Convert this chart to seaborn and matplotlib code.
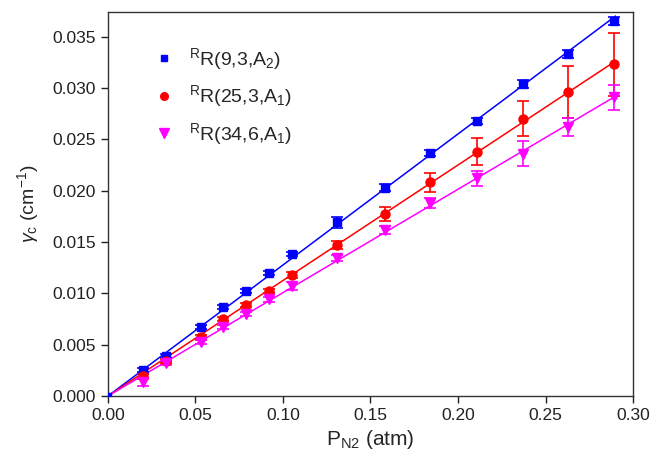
import numpy as np
import pandas as pd
import matplotlib
matplotlib.use("Agg")
import matplotlib.pyplot as plt
from matplotlib.lines import Line2D
import seaborn as sns

# pressures (atm)
p_n2 = [0.020, 0.033, 0.053, 0.066, 0.079, 0.092, 0.105,
        0.131, 0.158, 0.184, 0.211, 0.237, 0.263, 0.289]

# gamma_c (cm-1) per line
g_9_3_a2 = [0.0025, 0.0039, 0.0067, 0.0087, 0.0102, 0.0120, 0.0138,
            0.0169, 0.0203, 0.0237, 0.0268, 0.0304, 0.0333, 0.0365]
err_9_3_a2 = [0.0002, 0.0002, 0.0002, 0.0002, 0.0002, 0.0002, 0.0002,
              0.0005, 0.0003, 0.0003, 0.0003, 0.0004, 0.0004, 0.0004]

g_25_3_a1 = [0.0019, 0.0034, 0.0057, 0.0075, 0.0089, 0.0102, 0.0118,
             0.0147, 0.0177, 0.0208, 0.0238, 0.0270, 0.0296, 0.0323]
err_25_3_a1 = [0.0002, 0.0002, 0.0002, 0.0002, 0.0002, 0.0002, 0.0003,
               0.0004, 0.0007, 0.0009, 0.0013, 0.0017, 0.0025, 0.0031]

g_34_6_a1 = [0.0014, 0.0032, 0.0053, 0.0067, 0.0080, 0.0094, 0.0107,
             0.0134, 0.0162, 0.0188, 0.0212, 0.0236, 0.0262, 0.0291]
err_34_6_a1 = [0.0004, 0.0002, 0.0002, 0.0002, 0.0002, 0.0002, 0.0004,
               0.0003, 0.0004, 0.0005, 0.0007, 0.0012, 0.0009, 0.0012]

labels = [r"$^{\mathrm{R}}$R(9,3,A$_2$)",
          r"$^{\mathrm{R}}$R(25,3,A$_1$)",
          r"$^{\mathrm{R}}$R(34,6,A$_1$)"]
colors = ["#0000ff", "#ff0000", "#ff00ff"]
markers = ["s", "o", "v"]
msizes = [5.5, 6.5, 7.5]

sns.set_theme(style="ticks")
plt.rcParams["font.family"] = ["Liberation Sans", "DejaVu Sans"]
plt.rcParams["mathtext.fontset"] = "custom"
plt.rcParams["mathtext.rm"] = "Liberation Sans"
plt.rcParams["mathtext.it"] = "Liberation Sans:italic"

fig = plt.figure(figsize=(6.52, 4.61), dpi=100)
ax = fig.add_axes([0.1656, 0.141, 0.8053, 0.833])

series = [(g_9_3_a2, err_9_3_a2), (g_25_3_a1, err_25_3_a1), (g_34_6_a1, err_34_6_a1)]
x = np.array(p_n2)
x_fit = np.array([0.0, 0.29])
handles = []
for (y, e), lab, c, m, ms in zip(series, labels, colors, markers, msizes):
    y = np.array(y)
    # linear fit through origin
    slope = np.sum(x * y) / np.sum(x * x)
    fit_df = pd.DataFrame({"x": x_fit, "y": slope * x_fit})
    sns.lineplot(data=fit_df, x="x", y="y", color=c, lw=1.1, ax=ax, legend=False)
    ax.errorbar(x, y, yerr=e, fmt=m, color=c, ms=ms, ecolor=c, elinewidth=1.2,
                capsize=4, capthick=1.2, zorder=3)
    handles.append(Line2D([], [], ls="none", marker=m, color=c, ms=ms - 1, label=lab))

ax.plot([0], [0], marker="s", color="#0000ff", ms=4, zorder=4)

ax.set_xlim(0, 0.30)
ax.set_ylim(0, 0.0374)
ax.set_xticks(np.arange(0, 0.301, 0.05))
ax.set_yticks(np.arange(0, 0.0351, 0.005))
ax.xaxis.set_major_formatter(matplotlib.ticker.FormatStrFormatter("%.2f"))
ax.yaxis.set_major_formatter(matplotlib.ticker.FormatStrFormatter("%.3f"))
ax.tick_params(direction="out", length=5, width=1, labelsize=12.5, colors="#222222",
               top=False, right=False)
for s in ax.spines.values():
    s.set_linewidth(1.0)
    s.set_color("#333333")
    s.set_visible(True)

ax.set_xlabel(r"P$_{\mathrm{N2}}$ (atm)", fontsize=15, labelpad=4)
ax.set_ylabel(r"$\gamma_{\mathrm{c}}$ (cm$^{-1}$)", fontsize=14, labelpad=8)

ax.legend(handles=handles, loc="upper left", bbox_to_anchor=(0.055, 0.957), frameon=False,
          fontsize=14, handletextpad=0.8, labelspacing=0.6, handlelength=1.0)

fig.savefig("out.png", dpi=100)
